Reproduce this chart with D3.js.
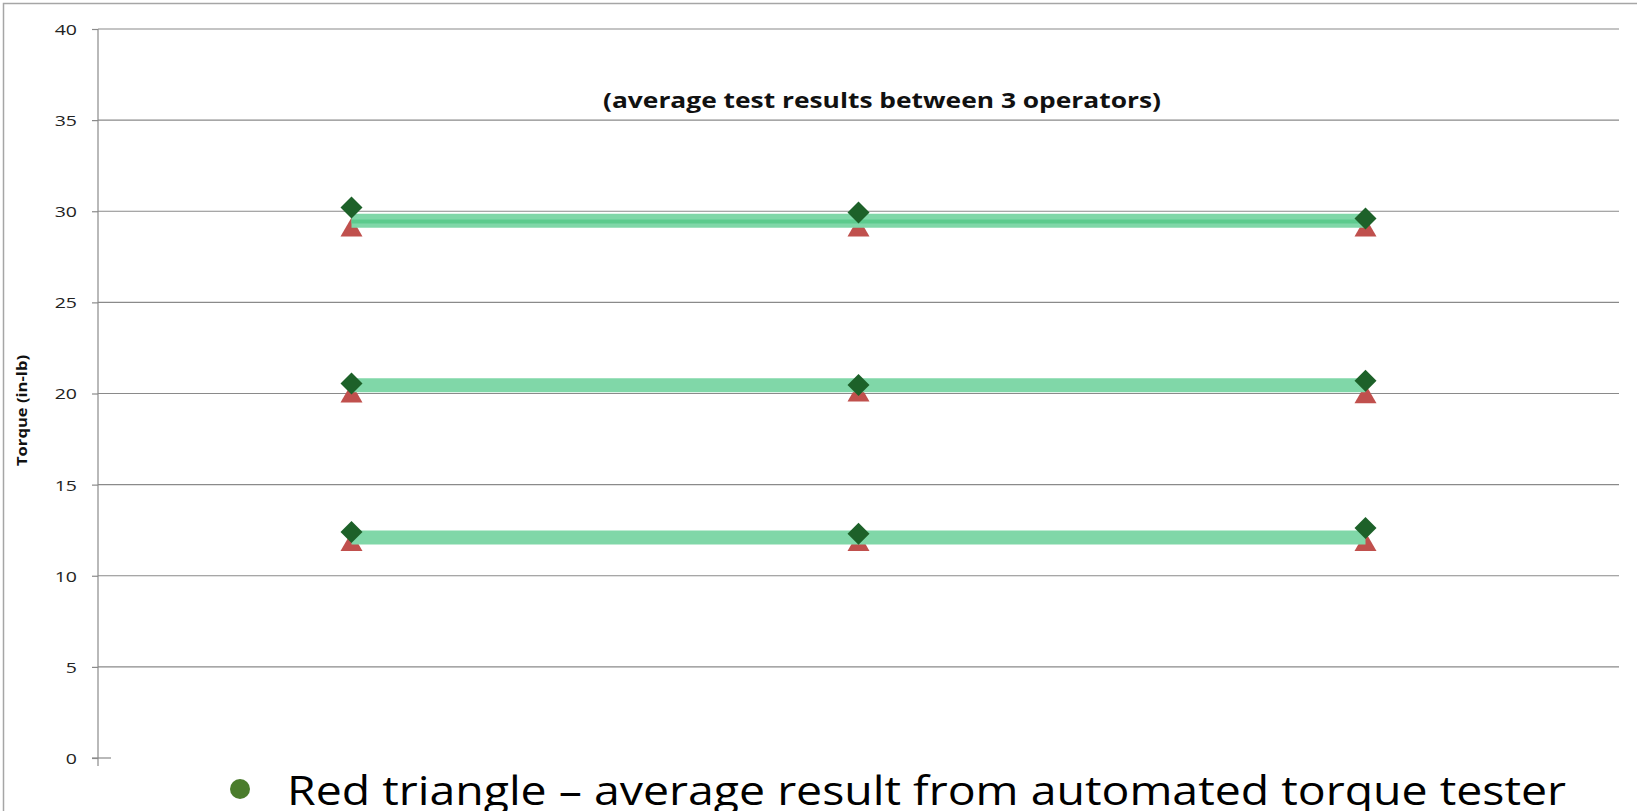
<!DOCTYPE html>
<meta charset="utf-8">
<style>

body { margin: 0; background: #fff; }

.grid line {
  stroke: #8a8a8a;
  stroke-width: 1.2px;
}

.axis path, .axis line {
  stroke: #8a8a8a;
  stroke-width: 1.2px;
}

.axis text {
  font-family: "Open Sans", sans-serif;
  font-size: 15px;
  fill: #222;
}

</style>
<svg width="1637" height="811"></svg>
<script src="https://cdnjs.cloudflare.com/ajax/libs/d3/7.8.5/d3.min.js"></script>
<script>

// three test points (no category labels are shown on the chart)
var categories = ["Point 1", "Point 2", "Point 3"];
var yTicks = [0, 5, 10, 15, 20, 25, 30, 35, 40];

// green diamond - average of the 3 operators, one row per torque level
var operatorAvg = [
  [30.2, 29.93, 29.6],
  [20.55, 20.47, 20.7],
  [12.4, 12.3, 12.62]
];

// red triangle - average from automated torque tester
var testerAvg = [
  [29.05, 29.05, 29.05],
  [19.95, 20.0, 19.9],
  [11.8, 11.8, 11.8]
];

// light green reference bands
var bandValues = [
  [29.48, 29.48, 29.48],
  [20.45, 20.45, 20.45],
  [12.1, 12.1, 12.1]
];
var innerLine = [
  [29.44, 29.44, 29.44]
];

var svg = d3.select("svg"),
    width = +svg.attr("width"),
    height = +svg.attr("height");

var plotLeft = 98, plotRight = 1619, plotTop = 29, plotBottom = 758;

var x = d3.scaleBand().domain(categories).range([plotLeft, plotRight]);
var y = d3.scaleLinear().domain([0, 40]).range([plotBottom, plotTop]);

function cx(d, i) { return x(categories[i]) + x.bandwidth() / 2; }

// outer frame
svg.append("path")
    .attr("d", "M3.5," + height + "V3.5H" + width)
    .attr("fill", "none")
    .attr("stroke", "#a6a6a6")
    .attr("stroke-width", 1.5);

// gridlines
svg.append("g")
    .attr("class", "grid")
  .selectAll("line")
  .data(yTicks.filter(function(t) { return t > 0; }))
  .enter().append("line")
    .attr("x1", plotLeft)
    .attr("x2", plotRight)
    .attr("y1", function(d) { return y(d); })
    .attr("y2", function(d) { return y(d); });

// y axis
var yAxis = svg.append("g")
    .attr("class", "axis")
    .attr("transform", "translate(" + plotLeft + ",0)")
    .call(d3.axisLeft(y).tickValues(yTicks).tickSize(6).tickPadding(15).tickSizeOuter(0));

yAxis.select(".domain").attr("d", "M0," + plotTop + "V" + (plotBottom + 8));
yAxis.selectAll("text")
    .attr("dy", "0.36em")
    .attr("transform", "translate(-21,0) scale(1.3,1) translate(21,0)");

// short baseline stub at zero
svg.append("line")
    .attr("x1", plotLeft - 6)
    .attr("x2", plotLeft + 13)
    .attr("y1", y(0))
    .attr("y2", y(0))
    .attr("stroke", "#8a8a8a")
    .attr("stroke-width", 1.2);

var line = d3.line()
    .x(cx)
    .y(function(d) { return y(d); });

// red triangles
var tri = "M0,-10L11,9L-11,9Z";
svg.append("g")
  .selectAll("g")
  .data(testerAvg)
  .enter().append("g")
  .selectAll("path")
  .data(function(d) { return d; })
  .enter().append("path")
    .attr("d", tri)
    .attr("fill", "#c0504d")
    .attr("transform", function(d, i) { return "translate(" + cx(d, i) + "," + (y(d) - 1) + ")"; });

// bands
svg.append("g")
  .selectAll("path")
  .data(bandValues)
  .enter().append("path")
    .attr("d", line)
    .attr("fill", "none")
    .attr("stroke", "#80d7a8")
    .attr("stroke-width", 14);

svg.append("g")
  .selectAll("path")
  .data(innerLine)
  .enter().append("path")
    .attr("d", line)
    .attr("fill", "none")
    .attr("stroke", "#5ccb8d")
    .attr("stroke-width", 4);

// green diamonds
var diamond = "M0,-11L11,0L0,11L-11,0Z";
svg.append("g")
  .selectAll("g")
  .data(operatorAvg)
  .enter().append("g")
  .selectAll("path")
  .data(function(d) { return d; })
  .enter().append("path")
    .attr("d", diamond)
    .attr("fill", "#1d6129")
    .attr("transform", function(d, i) { return "translate(" + cx(d, i) + "," + y(d) + ")"; });

// chart title
svg.append("text")
    .attr("x", 603)
    .attr("y", 108)
    .attr("textLength", 558)
    .attr("lengthAdjust", "spacingAndGlyphs")
    .style("font-family", "'Open Sans', sans-serif")
    .style("font-weight", "bold")
    .style("font-size", "21px")
    .style("fill", "#111")
    .text("(average test results between 3 operators)");

// y axis title
svg.append("text")
    .attr("transform", "translate(27,466) rotate(-90)")
    .attr("textLength", 111)
    .attr("lengthAdjust", "spacingAndGlyphs")
    .style("font-family", "'Open Sans', sans-serif")
    .style("font-weight", "bold")
    .style("font-size", "14px")
    .style("fill", "#111")
    .text("Torque (in-lb)");

// bullet note laid over the bottom of the chart
svg.append("rect")
    .attr("x", plotLeft + 13)
    .attr("y", plotBottom + 4)
    .attr("width", width - plotLeft - 13)
    .attr("height", height - plotBottom - 4)
    .attr("fill", "#fff");

svg.append("circle")
    .attr("cx", 240)
    .attr("cy", 789)
    .attr("r", 10)
    .attr("fill", "#4a7c2c");

svg.append("text")
    .attr("x", 287)
    .attr("y", 805)
    .attr("textLength", 1279)
    .attr("lengthAdjust", "spacingAndGlyphs")
    .style("font-family", "'Open Sans', sans-serif")
    .style("font-size", "40px")
    .style("fill", "#000")
    .text("Red triangle \u2013 average result from automated torque tester");

</script>
